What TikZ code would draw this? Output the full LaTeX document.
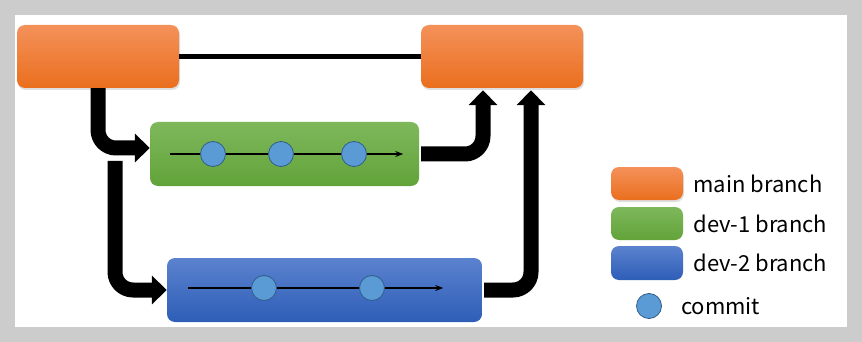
\documentclass[tikz,border=0pt]{standalone}
\usepackage{fontspec}
\setmainfont{Noto Sans CJK JP}
\usetikzlibrary{arrows.meta,positioning,calc,shadows}

\definecolor{orangetop}{HTML}{F4915A}
\definecolor{orangebot}{HTML}{EA6F1E}
\definecolor{greentop}{HTML}{7EB85C}
\definecolor{greenbot}{HTML}{62A339}
\definecolor{bluetop}{HTML}{5B82CE}
\definecolor{bluebot}{HTML}{2E5EB8}
\definecolor{commitfill}{HTML}{5B9BD5}
\definecolor{commitdraw}{HTML}{2F5C8A}
\definecolor{framegray}{HTML}{CCCCCC}

\begin{document}
\begin{tikzpicture}[
    x=1pt, y=-1pt,
    branch/.style={rectangle, rounded corners=8pt, inner sep=0pt},
    mainbr/.style={branch, top color=orangetop, bottom color=orangebot,
        drop shadow={shadow xshift=1pt, shadow yshift=-2pt, opacity=0.25}},
    devone/.style={branch, top color=greentop, bottom color=greenbot},
    devtwo/.style={branch, top color=bluetop, bottom color=bluebot},
    commit/.style={circle, draw=commitdraw, fill=commitfill, line width=0.8pt, minimum size=25pt, inner sep=0pt},
    commitline/.style={line width=1.3pt, -{Stealth[length=8pt,width=6pt]}},
    bigarrow/.style={line width=15pt, rounded corners=18pt, -{Triangle[length=15pt,width=28pt]}},
    legtext/.style={anchor=west, inner sep=0pt, font=\fontsize{22}{26}\selectfont}
]
    % frame
    \fill[framegray] (0,0) rectangle (862,342);
    \fill[white] (15,15) rectangle (847,327);
    \useasboundingbox (0,0) rectangle (862,342);

    % branches
    \node[mainbr, minimum width=162pt, minimum height=63pt] (main1) at (98,56.5) {};
    \node[mainbr, minimum width=162pt, minimum height=63pt] (main2) at (502,56.5) {};
    \node[devone, minimum width=269pt, minimum height=64pt] (dev1) at (284.5,154) {};
    \node[devtwo, minimum width=315pt, minimum height=64pt] (dev2) at (324.5,290) {};
    \coordinate (fork) at (115,161);

    \draw[line width=5pt] (main1.east) -- (main2.west);

    % merges and forks
    \draw[bigarrow] (main1.south) |- ([yshift=6pt]dev1.west);
    \draw[bigarrow] (fork) |- (dev2.west);
    \draw[bigarrow] ([xshift=2pt]dev1.east) -| ([xshift=-19pt,yshift=-2pt]main2.south);
    \draw[bigarrow] ([xshift=2pt]dev2.east) -| ([xshift=29pt,yshift=-2pt]main2.south);

    % commits
    \draw[commitline] ([xshift=20pt]dev1.west) -- ([xshift=-16pt]dev1.east);
    \node[commit] (c11) at (213,154) {};
    \node[commit] (c12) at (281,154) {};
    \node[commit] (c13) at (354,154) {};
    \draw[commitline] ([xshift=21pt,yshift=2pt]dev2.west) -- ([xshift=-39pt,yshift=2pt]dev2.east);
    \node[commit] (c21) at (264,288) {};
    \node[commit] (c22) at (372,288) {};

    % legend
    \node[mainbr, minimum width=72pt, minimum height=33pt] (legmain) at (647,183.5) {};
    \node[devone, minimum width=72pt, minimum height=33pt] (legdev1) at (647,223.5) {};
    \node[devtwo, minimum width=72pt, minimum height=34pt] (legdev2) at (647,263) {};
    \node[commit] (legcommit) at (649,306) {};
    \node[legtext, right=10pt of legmain] {main branch};
    \node[legtext, right=10pt of legdev1] {dev-1 branch};
    \node[legtext, right=10pt of legdev2] {dev-2 branch};
    \node[legtext, right=19pt of legcommit] {commit};
\end{tikzpicture}
\end{document}
